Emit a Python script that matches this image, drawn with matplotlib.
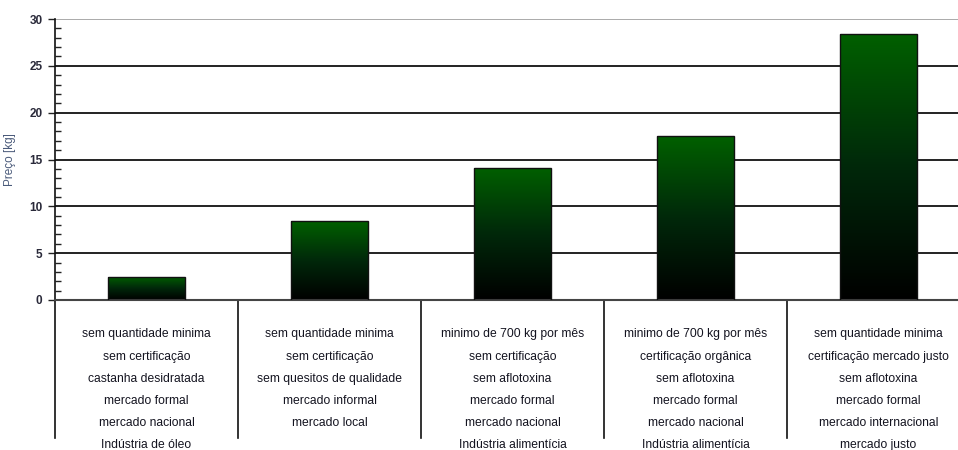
import matplotlib.pyplot as plt
import numpy as np
from matplotlib.colors import LinearSegmentedColormap

# Dados
categorias = [
    "sem quantidade minima\nsem certificação\ncastanha desidratada\nmercado formal\nmercado nacional\nIndústria de óleo",
    "sem quantidade minima\nsem certificação\nsem quesitos de qualidade\nmercado informal\nmercado local",
    "minimo de 700 kg por mês\nsem certificação\nsem aflotoxina\nmercado formal\nmercado nacional\nIndústria alimentícia",
    "minimo de 700 kg por mês\ncertificação orgânica\nsem aflotoxina\nmercado formal\nmercado nacional\nIndústria alimentícia",
    "sem quantidade minima\ncertificação mercado justo\nsem aflotoxina\nmercado formal\nmercado internacional\nmercado justo",
]
precos = [2.5, 8.4, 14.1, 17.5, 28.4]

plt.rcParams['font.family'] = ['Liberation Sans Narrow', 'Liberation Sans', 'DejaVu Sans']

fig = plt.figure(figsize=(9.58, 4.5), dpi=100)
ax = fig.add_axes([55 / 958, 150 / 450, 915 / 958, 281 / 450])

x = np.arange(len(precos))
barras = ax.bar(x, precos, width=0.42, color='none', edgecolor='#111111', linewidth=1.0, zorder=3)

# Gradiente verde -> preto em cada barra
cmap = LinearSegmentedColormap.from_list('verde', ['#000000', '#00280a', '#006000'])
grad = np.linspace(0, 1, 256).reshape(-1, 1)
for b in barras:
    x0, y0 = b.get_x(), b.get_y()
    w, h = b.get_width(), b.get_height()
    im = ax.imshow(grad, cmap=cmap, origin='lower', aspect='auto',
                   extent=[x0, x0 + w, y0, y0 + h], zorder=2)
    im.set_clip_path(b)

ax.set_xlim(-0.5, len(precos) - 0.5)
ax.set_ylim(0, 30)

# Eixo y
ax.set_yticks(range(0, 31, 5))
ax.set_yticks(range(0, 31, 1), minor=True)
ax.tick_params(axis='y', which='major', direction='out', length=5, width=1, color='#222222',
               labelsize=8.5, labelcolor='#2a2a3a', pad=4)
ax.tick_params(axis='y', which='minor', direction='in', length=4, width=1, color='#222222')
for t in ax.get_yticklabels():
    t.set_fontweight('bold')
ax.set_ylabel('Preço [kg]', fontsize=8.5, color='#4a5a7a', labelpad=14)
ax.yaxis.set_label_coords(-0.043, 0.5)

# Eixo x com rótulos de várias linhas
ax.set_xticks(x)
ax.set_xticklabels(categorias, fontsize=8.7, color='#141420', linespacing=2.12)
ax.tick_params(axis='x', which='major', length=0, pad=20.5)

# Grade
ax.yaxis.grid(True, color='#222222', linewidth=1.4, zorder=1)
ax.set_axisbelow(True)
gl = ax.get_ygridlines()
gl[-1].set_color('#aaaaaa')
gl[0].set_visible(False)

for s in ['top', 'right']:
    ax.spines[s].set_visible(False)
ax.spines['bottom'].set_color('#444444')
ax.spines['bottom'].set_linewidth(1.5)
ax.spines['left'].set_color('#111111')
ax.spines['left'].set_linewidth(1.2)

# Linhas divisórias entre categorias, abaixo do eixo
for xb in np.arange(-0.5, len(precos) - 0.5):
    ax.axvline(xb, ymin=-0.49, ymax=0, color='#111111', linewidth=1.2, clip_on=False)

fig.savefig('out.png', dpi=100)
